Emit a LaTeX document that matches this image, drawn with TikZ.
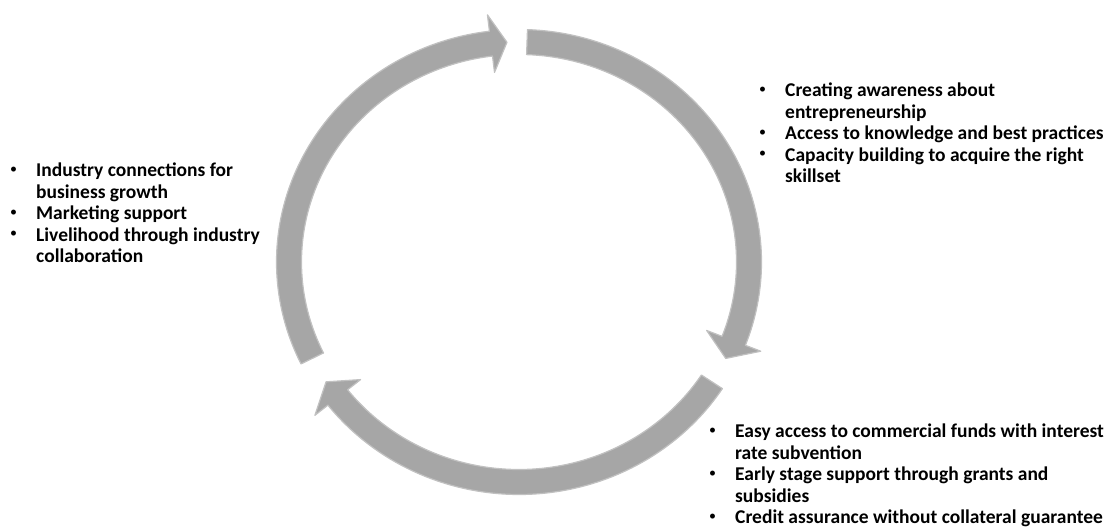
\documentclass[tikz,border=0pt]{standalone}
\usepackage{fontspec}
\setmainfont{Carlito}
\usepackage{tikz}
\definecolor{RingGray}{HTML}{A6A6A6}
\tikzset{
  ringarrow/.style={fill=RingGray, draw=RingGray!70, line width=1.2pt, line join=round},
  bulletlist/.style={anchor=base west, inner sep=0pt,
    font=\bfseries\fontsize{19.5}{21.5}\selectfont}
}
% one piece of the ring: #1 tail angle, #2 head base angle, #3 tip angle
\newcommand{\ringarrow}[3]{%
  \path[ringarrow] (#1:242.5 and 232.5)
    arc[start angle=#1, end angle=#2, x radius=242.5, y radius=232.5]
    -- (#2:259 and 249) -- (#3:230 and 220) -- (#2:201 and 191)
    -- (#2:217.5 and 207.5)
    arc[start angle=#2, end angle=#1, x radius=217.5, y radius=207.5] -- cycle;}
\newcommand{\dotmark}{\raisebox{3.5pt}{\mdseries\fontsize{14}{14}\selectfont\textbullet}}

\begin{document}
\begin{tikzpicture}[x=1pt, y=1pt]
  \useasboundingbox (0,0) rectangle (1114,532);
  % the cycle
  \begin{scope}[shift={(519,270)}]
    \ringarrow{206}{97}{93}
    \ringarrow{88}{-21}{-26}
    \ringarrow{-33}{-142}{-147}
  \end{scope}
  % the three lists
  \node[bulletlist] (awareness) at (759,435) {\begin{tabular}[t]{@{}p{26pt}@{}l@{}}
    \dotmark & Creating awareness about\\
    & entrepreneurship\\
    \dotmark & Access to knowledge and best practices\\
    \dotmark & Capacity building to acquire the right\\
    & skillset
  \end{tabular}};
  \node[bulletlist] (funding) at (709,94) {\begin{tabular}[t]{@{}p{26pt}@{}l@{}}
    \dotmark & Easy access to commercial funds with interest\\
    & rate subvention\\
    \dotmark & Early stage support through grants and\\
    & subsidies\\
    \dotmark & Credit assurance without collateral guarantee
  \end{tabular}};
  \node[bulletlist] (industry) at (10,355) {\begin{tabular}[t]{@{}p{26pt}@{}l@{}}
    \dotmark & Industry connections for\\
    & business growth\\
    \dotmark & Marketing support\\
    \dotmark & Livelihood through industry\\
    & collaboration
  \end{tabular}};
\end{tikzpicture}
\end{document}
